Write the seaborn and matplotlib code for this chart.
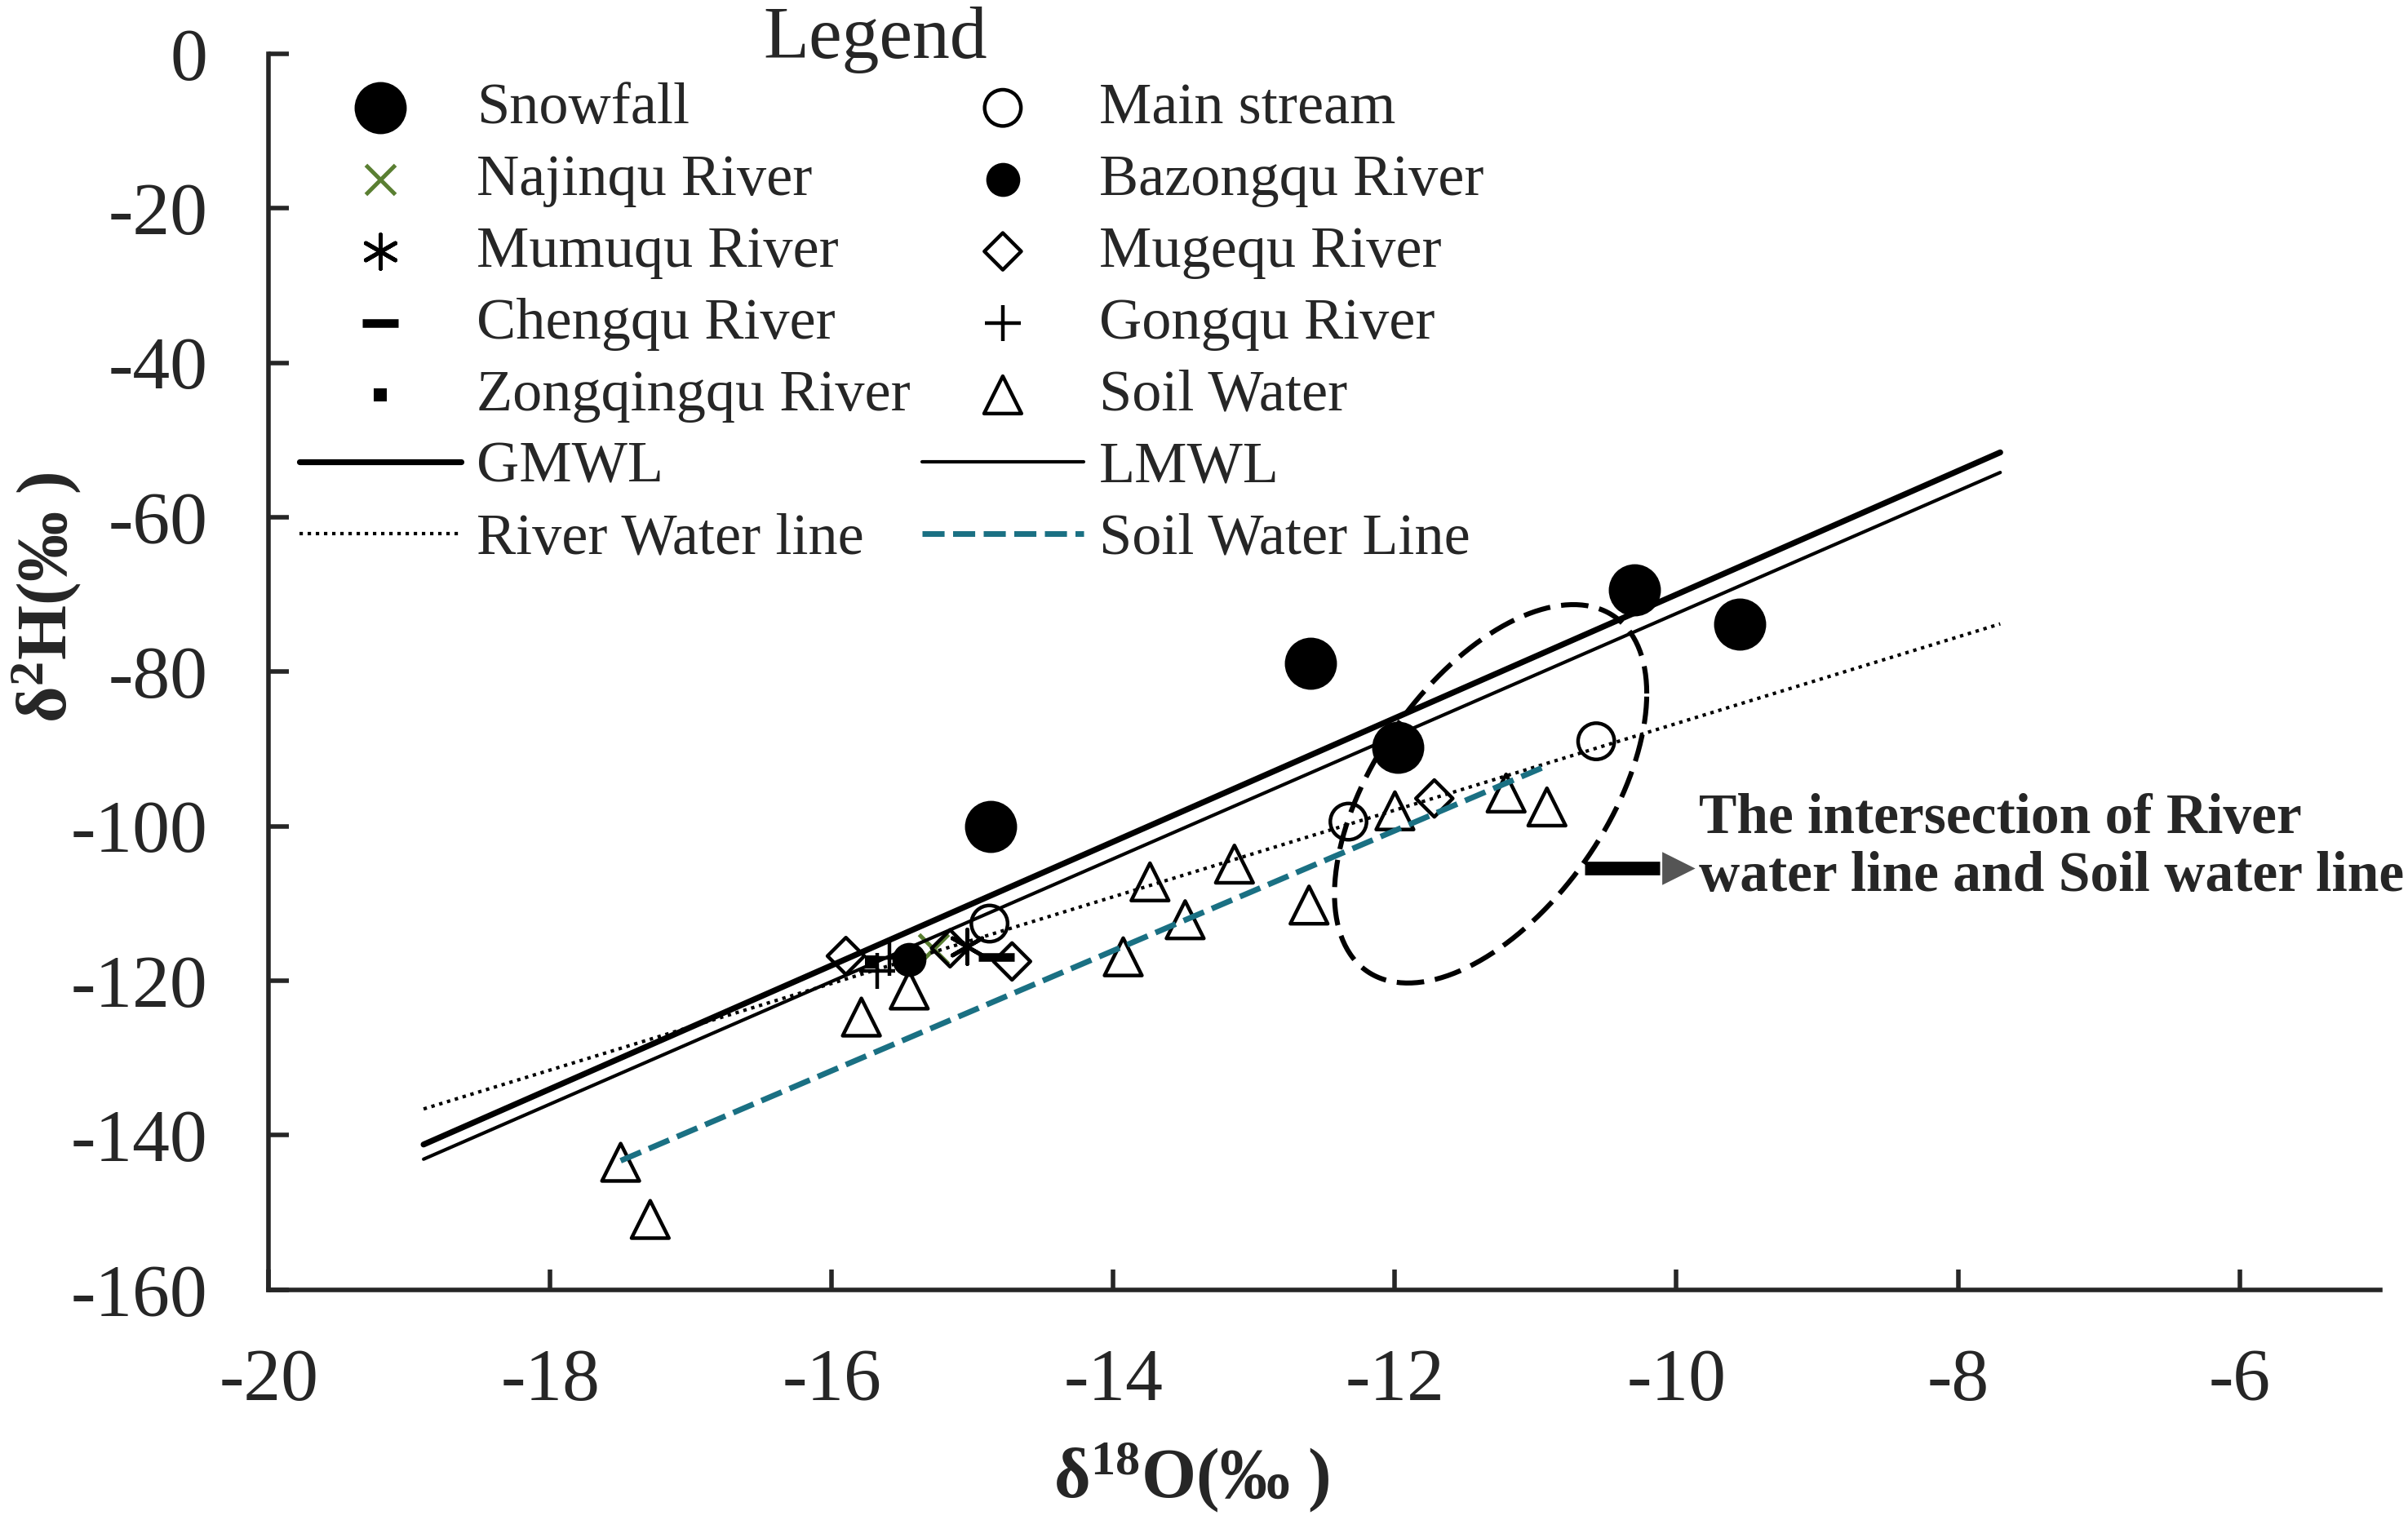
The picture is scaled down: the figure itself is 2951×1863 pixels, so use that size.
import numpy as np
import matplotlib
matplotlib.use("Agg")
import matplotlib.pyplot as plt
import seaborn as sns

# Data (delta 18O, delta 2H)
snow_x = [-14.87, -12.60, -11.98, -10.30, -9.55]
snow_y = [-100.0, -78.9, -89.8, -69.4, -73.8]

main_x = [-14.88, -12.33, -10.57]
main_y = [-112.6, -99.4, -89.0]

najinqu_x = [-15.28]
najinqu_y = [-115.9]

bazongqu_x = [-15.45]
bazongqu_y = [-117.2]

mumuqu_x = [-15.04]
mumuqu_y = [-115.6]

mugequ_x = [-15.90, -15.16, -14.72, -11.72]
mugequ_y = [-116.8, -115.8, -117.5, -96.4]

chengqu_x = [-14.83]
chengqu_y = [-116.9]

gongqu_x = [-15.68, -15.59]
gongqu_y = [-118.7, -117.0]

zongqing_x = [-15.72]
zongqing_y = [-117.6]

soil_x = [-17.50, -17.29, -15.79, -15.45, -13.93, -13.74, -13.49, -13.14,
          -12.61, -12.00, -11.21, -10.92]
soil_y = [-143.5, -150.9, -124.7, -121.2, -116.9, -107.2, -112.1, -104.9,
          -110.2, -98.0, -95.7, -97.5]

# water lines (end points)
gmwl_x = [-18.9, -7.7]
gmwl_y = [-141.2, -51.6]
lmwl_x = [-18.9, -7.7]
lmwl_y = [-143.1, -54.2]
river_x = [-18.9, -7.7]
river_y = [-136.6, -73.8]
soilline_x = [-17.5, -10.95]
soilline_y = [-143.3, -92.4]

# Style
sns.set_style("ticks")
plt.rcParams["font.family"] = ["Liberation Serif", "DejaVu Serif"]
plt.rcParams["axes.unicode_minus"] = False
plt.rcParams["mathtext.fontset"] = "custom"
plt.rcParams["mathtext.rm"] = "Liberation Serif"
plt.rcParams["mathtext.bf"] = "Liberation Serif:bold"
plt.rcParams["mathtext.it"] = "Liberation Serif:italic"

teal = "#1A7083"
green = "#5A7F32"

fig = plt.figure(figsize=(14.755, 9.315), dpi=200)
ax = fig.add_axes([0.1116, 0.1515, 0.8769, 0.8131])

# lines
sns.lineplot(x=gmwl_x, y=gmwl_y, ax=ax, color="black", lw=2.6, label="GMWL")
sns.lineplot(x=lmwl_x, y=lmwl_y, ax=ax, color="black", lw=1.5, label="LMWL")
sns.lineplot(x=river_x, y=river_y, ax=ax, color="black", lw=1.5,
             linestyle=(0, (1, 1.4)), label="River Water line")
sns.lineplot(x=soilline_x, y=soilline_y, ax=ax, color=teal, lw=2.5,
             linestyle=(0, (3.9, 1.5)), label="Soil Water Line")

# points
sns.scatterplot(x=snow_x, y=snow_y, ax=ax, marker="o", s=23**2,
                color="black", linewidth=0, label="Snowfall")
sns.scatterplot(x=main_x, y=main_y, ax=ax, marker="o", s=16**2,
                facecolor="none", edgecolor="black", linewidth=1.6,
                label="Main stream")
sns.scatterplot(x=najinqu_x, y=najinqu_y, ax=ax, marker="x", s=13**2,
                color=green, linewidth=1.8, label="Najinqu River")
sns.scatterplot(x=bazongqu_x, y=bazongqu_y, ax=ax, marker="o", s=15**2,
                color="black", linewidth=0, label="Bazongqu River")
sns.scatterplot(x=mumuqu_x, y=mumuqu_y, ax=ax, marker=(6, 2, 0), s=15**2,
                color="black", linewidth=1.8, label="Mumuqu River")
sns.scatterplot(x=mugequ_x, y=mugequ_y, ax=ax, marker="D", s=11.5**2,
                facecolor="none", edgecolor="black", linewidth=1.6,
                label="Mugequ River")
sns.scatterplot(x=chengqu_x, y=chengqu_y, ax=ax, marker="_", s=16**2,
                color="black", linewidth=3.8, label="Chengqu River")
sns.scatterplot(x=gongqu_x, y=gongqu_y, ax=ax, marker="+", s=16**2,
                color="black", linewidth=1.6, label="Gongqu River")
sns.scatterplot(x=zongqing_x, y=zongqing_y, ax=ax, marker="s", s=6**2,
                color="black", linewidth=0, label="Zongqingqu River")
sns.scatterplot(x=soil_x, y=soil_y, ax=ax, marker="^", s=16.5**2,
                facecolor="none", edgecolor="black", linewidth=1.6,
                label="Soil Water")

# dashed ellipse marking the intersection
cx, cy = -11.32, -95.8
cov = np.array([[1.23, 14.4], [14.4, 600.0]])
L = np.linalg.cholesky(cov)
t = np.linspace(0, 2 * np.pi, 300)
ell = L @ np.vstack([np.cos(t), np.sin(t)])
ax.plot(cx + ell[0], cy + ell[1], color="black", lw=2.2,
        linestyle=(0, (5.5, 2.2)))

# arrow + text
ax.plot([-10.65, -10.12], [-105.4, -105.4], color="black", lw=6,
        solid_capstyle="butt", clip_on=False)
ax.plot([-9.99], [-105.4], marker=">", ms=13, color="#555555",
        clip_on=False, linestyle="none")
ax.text(-9.84, -102.8, "The intersection of River\nwater line and Soil water line",
        fontsize=25, fontweight="bold", ha="left", va="center",
        linespacing=1.15, clip_on=False)

# axes
ax.set_xlim(-20, -5)
ax.set_ylim(-160, 0)
ax.set_xticks(np.arange(-20, -5, 2))
ax.set_yticks(np.arange(-160, 1, 20))
for s in ["top", "right"]:
    ax.spines[s].set_visible(False)
for s in ["left", "bottom"]:
    ax.spines[s].set_linewidth(2)
ax.tick_params(axis="both", direction="in", length=9, width=2, labelsize=33)
ax.tick_params(axis="y", pad=27)
ax.tick_params(axis="x", pad=26)

ax.set_xlabel(r"δ$^{\mathbf{18}}$O(‰ )", fontsize=31, fontweight="bold")
ax.set_ylabel(r"δ$^{\mathbf{2}}$H(‰ )", fontsize=31, fontweight="bold")
ax.xaxis.set_label_coords(0.437, -0.122)
ax.yaxis.set_label_coords(-0.088, 0.56)

# legend
handles, labels = ax.get_legend_handles_labels()
hmap = dict(zip(labels, handles))
order = ["Snowfall", "Najinqu River", "Mumuqu River", "Chengqu River",
         "Zongqingqu River", "GMWL", "River Water line",
         "Main stream", "Bazongqu River", "Mugequ River", "Gongqu River",
         "Soil Water", "LMWL", "Soil Water Line"]
ax.legend([hmap[k] for k in order], order, ncol=2, loc="upper left",
          bbox_to_anchor=(0.1244, 0.946), bbox_transform=fig.transFigure,
          frameon=False, fontsize=26,
          handlelength=2.74, handletextpad=0.26, columnspacing=0.2,
          labelspacing=0.31, borderpad=0, borderaxespad=0, scatterpoints=1)
fig.text(0.3635, 0.974, "Legend", fontsize=33, ha="center", va="center")

fig.savefig("out.png", dpi=200)
